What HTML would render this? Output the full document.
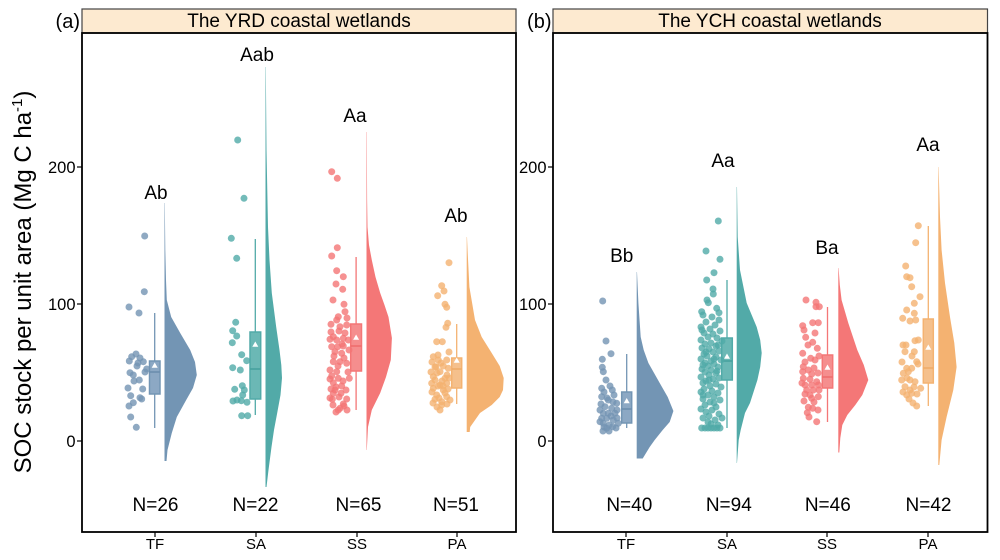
<!DOCTYPE html>
<html><head><meta charset="utf-8"><style>
html,body{margin:0;padding:0;background:#fff;}
svg{display:block;font-family:"Liberation Sans",Arial,sans-serif;}
</style></head><body>
<svg width="1000" height="560" viewBox="0 0 1000 560" xmlns="http://www.w3.org/2000/svg">
<rect width="1000" height="560" fill="#fff"/>

<!-- Y axis title -->
<text transform="translate(31,282) rotate(-90)" font-size="24" text-anchor="middle" fill="#000">SOC stock per unit area (Mg C ha<tspan font-size="15" dy="-9">-1</tspan><tspan dy="9">)</tspan></text>

<!-- ================= PANEL A ================= -->
<rect x="82" y="9" width="434" height="24" fill="#FDEAD0" stroke="#444" stroke-width="1.2"/>
<text x="299" y="27" font-size="19" text-anchor="middle">The YRD coastal wetlands</text>
<text x="80" y="28" font-size="20" text-anchor="end">(a)</text>

<!-- y ticks A -->
<g stroke="#000" stroke-width="1.2">
<line x1="77" y1="441" x2="82" y2="441"/><line x1="77" y1="304" x2="82" y2="304"/><line x1="77" y1="167" x2="82" y2="167"/>
<line x1="155" y1="532" x2="155" y2="537"/><line x1="256" y1="532" x2="256" y2="537"/><line x1="357" y1="532" x2="357" y2="537"/><line x1="457" y1="532" x2="457" y2="537"/>
</g>
<g font-size="16.5" text-anchor="end" fill="#000">
<text x="75.5" y="447">0</text><text x="75.5" y="310">100</text><text x="75.5" y="173">200</text>
</g>
<g font-size="15" text-anchor="middle">
<text x="155" y="549">TF</text><text x="256" y="549">SA</text><text x="357" y="549">SS</text><text x="457" y="549">PA</text>
</g>

<!-- TF a -->
<g>
<polygon fill="#7395B4" points="164.5,203 164.8,203 165.3,250 166,280 166.8,300 171.2,317 180.2,333 190.2,350 195,362 196.8,375 193,388 186.2,400 176.8,417 171.8,433 167.5,450 166.5,461 164.5,461"/>
<line x1="154.7" y1="313" x2="154.7" y2="428" stroke="#7395B4" stroke-width="1.3"/>
<rect x="149.5" y="361" width="10.5" height="33" fill="#8CA8C4" stroke="#7395B4" stroke-width="1.5"/>
<line x1="149.5" y1="372" x2="160" y2="372" stroke="#6A8CAD" stroke-width="1.5"/>
<polygon points="154.7,362.5 151.7,367.8 157.7,367.8" fill="#fff"/>
<g fill="#7393B3" fill-opacity="0.8">
<circle cx="144.7" cy="236" r="3.5"/><circle cx="144.3" cy="291.7" r="3.5"/><circle cx="129" cy="307" r="3.5"/><circle cx="139" cy="313" r="3.5"/>
<circle cx="136" cy="354" r="3.5"/><circle cx="131.7" cy="356.7" r="3.5"/><circle cx="129.3" cy="361" r="3.5"/><circle cx="138" cy="363" r="3.5"/>
<circle cx="143.3" cy="361.7" r="3.5"/><circle cx="146.7" cy="369" r="3.5"/><circle cx="130" cy="372.7" r="3.5"/><circle cx="133.3" cy="375" r="3.5"/>
<circle cx="139.3" cy="380" r="3.5"/><circle cx="142.7" cy="389" r="3.5"/><circle cx="130.7" cy="395.7" r="3.5"/><circle cx="140" cy="397.7" r="3.5"/>
<circle cx="141.7" cy="399" r="3.5"/><circle cx="133.3" cy="402.7" r="3.5"/><circle cx="129" cy="406" r="3.5"/><circle cx="130.7" cy="417" r="3.5"/>
<circle cx="136.3" cy="427.3" r="3.5"/><circle cx="137" cy="366" r="3.5"/><circle cx="134" cy="381" r="3.5"/><circle cx="145" cy="372" r="3.5"/>
<circle cx="128" cy="388" r="3.5"/><circle cx="140" cy="358" r="3.5"/>
</g>
</g>

<!-- SA a -->
<g>
<polygon fill="#52AAA8" points="265.5,67 265.8,67 266.5,150 268,227 269.5,260 271.8,293 276.2,327 279.5,350 281.3,365 282,378 280.5,395 277.2,413 274,430 271.5,447 268.5,470 266.5,487 265.5,487"/>
<line x1="255.3" y1="239" x2="255.3" y2="415" stroke="#52AAA8" stroke-width="1.3"/>
<rect x="250" y="332" width="10.7" height="67" fill="#6BB8B5" stroke="#52AAA8" stroke-width="1.5"/>
<line x1="250" y1="369" x2="260.7" y2="369" stroke="#45A09D" stroke-width="1.5"/>
<polygon points="255.3,341.5 252.3,346.8 258.3,346.8" fill="#fff"/>
<g fill="#50AAA7" fill-opacity="0.8">
<circle cx="237.7" cy="140" r="3.5"/><circle cx="244" cy="198.3" r="3.5"/><circle cx="231.3" cy="238.3" r="3.5"/><circle cx="236.7" cy="258.3" r="3.5"/>
<circle cx="235.7" cy="322.3" r="3.5"/><circle cx="232.7" cy="330.7" r="3.5"/><circle cx="236.7" cy="336" r="3.5"/><circle cx="232.3" cy="342.7" r="3.5"/>
<circle cx="241.7" cy="354.7" r="3.5"/><circle cx="246.7" cy="360.7" r="3.5"/><circle cx="232.7" cy="367.7" r="3.5"/><circle cx="240.3" cy="370" r="3.5"/>
<circle cx="242.3" cy="385.7" r="3.5"/><circle cx="234.7" cy="389.3" r="3.5"/><circle cx="244.3" cy="390" r="3.5"/><circle cx="242.7" cy="395" r="3.5"/>
<circle cx="233" cy="401" r="3.5"/><circle cx="237" cy="400" r="3.5"/><circle cx="241.3" cy="400.7" r="3.5"/><circle cx="247" cy="402.3" r="3.5"/>
<circle cx="241.7" cy="415.7" r="3.5"/><circle cx="247.7" cy="415.7" r="3.5"/>
</g>
</g>

<!-- SS a -->
<g>
<polygon fill="#F47777" points="366.5,132 366.8,132 367.1,200 367.5,227 369,245 371.8,260 375.5,277 380.2,293 384.5,305 388.5,317 391.9,338 390.8,360 386,377 380.2,393 371.8,410 368,427 366.8,450 366.5,450"/>
<line x1="356.1" y1="257" x2="356.1" y2="410" stroke="#F47777" stroke-width="1.3"/>
<rect x="350.7" y="324" width="10.8" height="47" fill="#F58E8E" stroke="#F47777" stroke-width="1.5"/>
<line x1="350.7" y1="346" x2="361.5" y2="346" stroke="#EE6B6B" stroke-width="1.5"/>
<polygon points="356.1,334.5 353.1,339.8 359.1,339.8" fill="#fff"/>
<g fill="#F47575" fill-opacity="0.8">
<circle cx="331.7" cy="171.7" r="3.5"/><circle cx="337.3" cy="178.3" r="3.5"/><circle cx="337.3" cy="247.7" r="3.5"/><circle cx="331.7" cy="256" r="3.5"/>
<circle cx="336.7" cy="270.7" r="3.5"/><circle cx="343.3" cy="276.7" r="3.5"/><circle cx="336" cy="284" r="3.5"/><circle cx="342.7" cy="289.3" r="3.5"/>
<circle cx="344" cy="304.3" r="3.5"/><circle cx="345" cy="311.7" r="3.5"/><circle cx="338.3" cy="316.7" r="3.5"/><circle cx="331" cy="324.3" r="3.5"/>
<circle cx="336.7" cy="320" r="3.5"/><circle cx="346.7" cy="325" r="3.5"/><circle cx="340" cy="326.7" r="3.5"/><circle cx="333.3" cy="336.7" r="3.5"/>
<circle cx="330" cy="339.3" r="3.5"/><circle cx="336.7" cy="340" r="3.5"/><circle cx="343.3" cy="338.3" r="3.5"/><circle cx="331.7" cy="346.7" r="3.5"/>
<circle cx="337.7" cy="346.7" r="3.5"/><circle cx="343.3" cy="346" r="3.5"/><circle cx="348.3" cy="340" r="3.5"/><circle cx="335" cy="351.7" r="3.5"/>
<circle cx="341.7" cy="353.3" r="3.5"/><circle cx="333.3" cy="361.7" r="3.5"/><circle cx="340" cy="361.7" r="3.5"/><circle cx="346.7" cy="363.3" r="3.5"/>
<circle cx="330" cy="370" r="3.5"/><circle cx="336.7" cy="371.7" r="3.5"/><circle cx="331.7" cy="376" r="3.5"/><circle cx="338.3" cy="378.3" r="3.5"/>
<circle cx="349.3" cy="378.3" r="3.5"/><circle cx="333.3" cy="382.7" r="3.5"/><circle cx="341.7" cy="386" r="3.5"/><circle cx="335" cy="390" r="3.5"/>
<circle cx="333.3" cy="393.3" r="3.5"/><circle cx="341" cy="393.3" r="3.5"/><circle cx="332.3" cy="399.3" r="3.5"/><circle cx="346.7" cy="399" r="3.5"/>
<circle cx="343.3" cy="404" r="3.5"/><circle cx="340" cy="408.3" r="3.5"/><circle cx="338.3" cy="410" r="3.5"/>
<circle cx="333" cy="300" r="3.5"/><circle cx="347" cy="318" r="3.5"/><circle cx="339" cy="331" r="3.5"/><circle cx="345" cy="333" r="3.5"/>
<circle cx="331" cy="332" r="3.5"/><circle cx="349" cy="350" r="3.5"/><circle cx="334" cy="356" r="3.5"/><circle cx="344" cy="358" r="3.5"/>
<circle cx="338" cy="366" r="3.5"/><circle cx="348" cy="372" r="3.5"/><circle cx="330" cy="379" r="3.5"/><circle cx="343" cy="381" r="3.5"/>
<circle cx="336" cy="387" r="3.5"/><circle cx="346" cy="390" r="3.5"/><circle cx="331" cy="389" r="3.5"/><circle cx="339" cy="397" r="3.5"/>
<circle cx="336" cy="412" r="3.5"/><circle cx="344" cy="406" r="3.5"/><circle cx="330" cy="398" r="3.5"/><circle cx="333" cy="405" r="3.5"/>
<circle cx="347" cy="410" r="3.5"/><circle cx="342" cy="344" r="3.5"/>
</g>
</g>

<!-- PA a -->
<g>
<polygon fill="#F4B271" points="466.7,237 467,237 467.7,253 469.4,287 475,320 481.7,337 491.7,353 499.7,366 503.7,378 503,390 499.7,397 491.7,405 480,413 470.2,427 469.7,432 466.7,432"/>
<line x1="456.7" y1="324" x2="456.7" y2="404" stroke="#F4B271" stroke-width="1.3"/>
<rect x="451.7" y="358" width="10" height="30" fill="#F5C08C" stroke="#F4B271" stroke-width="1.5"/>
<line x1="451.7" y1="369" x2="461.7" y2="369" stroke="#EFAA66" stroke-width="1.5"/>
<polygon points="456.7,357.5 453.7,362.8 459.7,362.8" fill="#fff"/>
<g fill="#F4B170" fill-opacity="0.8">
<circle cx="449" cy="262.7" r="3.5"/><circle cx="441.7" cy="285.7" r="3.5"/><circle cx="444" cy="291" r="3.5"/><circle cx="437.7" cy="295.7" r="3.5"/>
<circle cx="445" cy="304.3" r="3.5"/><circle cx="446.7" cy="307.3" r="3.5"/><circle cx="447.7" cy="323.3" r="3.5"/><circle cx="446" cy="327.3" r="3.5"/>
<circle cx="436.7" cy="341.7" r="3.5"/><circle cx="442.3" cy="341.7" r="3.5"/><circle cx="433.3" cy="356.7" r="3.5"/><circle cx="438.3" cy="360" r="3.5"/>
<circle cx="446.7" cy="360" r="3.5"/><circle cx="436" cy="366.7" r="3.5"/><circle cx="443.3" cy="366" r="3.5"/><circle cx="448.3" cy="368.3" r="3.5"/>
<circle cx="440" cy="371.7" r="3.5"/><circle cx="433.3" cy="376.7" r="3.5"/><circle cx="445" cy="378.3" r="3.5"/><circle cx="435" cy="380" r="3.5"/>
<circle cx="431.7" cy="383.3" r="3.5"/><circle cx="440" cy="385" r="3.5"/><circle cx="446.7" cy="383.3" r="3.5"/><circle cx="433.3" cy="388.3" r="3.5"/>
<circle cx="443.3" cy="390" r="3.5"/><circle cx="436.7" cy="395" r="3.5"/><circle cx="446.7" cy="396.7" r="3.5"/><circle cx="435" cy="399.3" r="3.5"/>
<circle cx="441.7" cy="401.7" r="3.5"/><circle cx="450" cy="400" r="3.5"/><circle cx="441.7" cy="405" r="3.5"/>
<circle cx="438" cy="355" r="3.5"/><circle cx="449" cy="352" r="3.5"/><circle cx="432" cy="362" r="3.5"/><circle cx="441" cy="363" r="3.5"/>
<circle cx="447" cy="375" r="3.5"/><circle cx="437" cy="373" r="3.5"/><circle cx="431" cy="372" r="3.5"/><circle cx="442" cy="381" r="3.5"/>
<circle cx="438" cy="386" r="3.5"/><circle cx="448" cy="389" r="3.5"/><circle cx="432" cy="392" r="3.5"/><circle cx="445" cy="393" r="3.5"/>
<circle cx="439" cy="398" r="3.5"/><circle cx="433" cy="403" r="3.5"/><circle cx="447" cy="404" r="3.5"/><circle cx="437" cy="407" r="3.5"/>
<circle cx="443" cy="386" r="3.5"/><circle cx="435" cy="367" r="3.5"/><circle cx="449" cy="378" r="3.5"/><circle cx="440" cy="410" r="3.5"/>
</g>
</g>

<g font-size="19" text-anchor="middle" fill="#000">
<text x="156" y="199">Ab</text><text x="257" y="61">Aab</text><text x="355" y="122">Aa</text><text x="456" y="222">Ab</text>
<text x="155.5" y="511">N=26</text><text x="255.5" y="511">N=22</text><text x="358.5" y="511">N=65</text><text x="456" y="511">N=51</text>
</g>
<rect x="82" y="33" width="434" height="499" fill="none" stroke="#000" stroke-width="1.8"/>

<!-- ================= PANEL B ================= -->
<rect x="553" y="9" width="434.5" height="24" fill="#FDEAD0" stroke="#444" stroke-width="1.2"/>
<text x="770" y="27" font-size="19" text-anchor="middle">The YCH coastal wetlands</text>
<text x="551.5" y="28" font-size="20" text-anchor="end">(b)</text>

<g stroke="#000" stroke-width="1.2">
<line x1="548" y1="441" x2="553" y2="441"/><line x1="548" y1="304" x2="553" y2="304"/><line x1="548" y1="167" x2="553" y2="167"/>
<line x1="626" y1="532" x2="626" y2="537"/><line x1="727" y1="532" x2="727" y2="537"/><line x1="827" y1="532" x2="827" y2="537"/><line x1="928" y1="532" x2="928" y2="537"/>
</g>
<g font-size="16.5" text-anchor="end" fill="#000">
<text x="546.5" y="447">0</text><text x="546.5" y="310">100</text><text x="546.5" y="173">200</text>
</g>
<g font-size="15" text-anchor="middle">
<text x="626" y="549">TF</text><text x="727" y="549">SA</text><text x="827" y="549">SS</text><text x="928" y="549">PA</text>
</g>

<!-- TF b -->
<g>
<polygon fill="#7395B4" points="636.7,272 637,272 638.4,303 640.7,337 643.7,350 648.4,363 659.7,383 667.7,397 673.4,411 669.7,422 662.7,430 654.7,440 649.7,447 642.7,458.5 636.7,458.5"/>
<line x1="626.7" y1="354" x2="626.7" y2="428" stroke="#7395B4" stroke-width="1.3"/>
<rect x="621.7" y="392" width="10" height="31" fill="#8CA8C4" stroke="#7395B4" stroke-width="1.5"/>
<line x1="621.7" y1="409" x2="631.7" y2="409" stroke="#6A8CAD" stroke-width="1.5"/>
<polygon points="626.7,398 623.7,403.3 629.7,403.3" fill="#fff"/>
<g fill="#7393B3" fill-opacity="0.8">
<circle cx="602.7" cy="301" r="3.5"/><circle cx="606" cy="341" r="3.5"/><circle cx="611" cy="353.7" r="3.5"/><circle cx="602.3" cy="359.3" r="3.5"/>
<circle cx="602.3" cy="367.3" r="3.5"/><circle cx="603.3" cy="371.7" r="3.5"/><circle cx="610" cy="386" r="3.5"/><circle cx="601.7" cy="388.3" r="3.5"/>
<circle cx="612.3" cy="390" r="3.5"/><circle cx="608.3" cy="400" r="3.5"/><circle cx="601.7" cy="396.7" r="3.5"/><circle cx="616.7" cy="403.3" r="3.5"/>
<circle cx="605" cy="406.7" r="3.5"/><circle cx="611.7" cy="408.3" r="3.5"/><circle cx="603.3" cy="413.3" r="3.5"/><circle cx="608.3" cy="413.3" r="3.5"/>
<circle cx="615" cy="413.3" r="3.5"/><circle cx="601.7" cy="418.3" r="3.5"/><circle cx="606.7" cy="418.3" r="3.5"/><circle cx="613.3" cy="420" r="3.5"/>
<circle cx="618.3" cy="423.3" r="3.5"/><circle cx="603.3" cy="423.3" r="3.5"/><circle cx="609.3" cy="425" r="3.5"/><circle cx="600" cy="421.7" r="3.5"/>
<circle cx="606.7" cy="428.3" r="3.5"/><circle cx="612.7" cy="426.7" r="3.5"/>
<circle cx="604" cy="392" r="3.5"/><circle cx="614" cy="395" r="3.5"/><circle cx="607" cy="398" r="3.5"/><circle cx="617" cy="410" r="3.5"/>
<circle cx="600" cy="410" r="3.5"/><circle cx="611" cy="416" r="3.5"/><circle cx="604" cy="427" r="3.5"/><circle cx="616" cy="428" r="3.5"/>
<circle cx="609" cy="431" r="3.5"/><circle cx="601" cy="404" r="3.5"/><circle cx="613" cy="402" r="3.5"/><circle cx="606" cy="380" r="3.5"/>
<circle cx="617" cy="418" r="3.5"/><circle cx="603" cy="431" r="3.5"/>
</g>
</g>

<!-- SA b -->
<g>
<polygon fill="#52AAA8" points="736.7,187 737,187 737.7,237 740,270 746.7,303 756.7,327 760.2,340 761.7,353 760.2,367 757.4,380 750,403 745,413 740.7,430 738.7,440 737,463 736.7,463"/>
<line x1="727" y1="280" x2="727" y2="428" stroke="#52AAA8" stroke-width="1.3"/>
<rect x="721.7" y="338" width="10.6" height="42" fill="#6BB8B5" stroke="#52AAA8" stroke-width="1.5"/>
<line x1="721.7" y1="361" x2="732.3" y2="361" stroke="#45A09D" stroke-width="1.5"/>
<polygon points="727,353.5 724,358.8 730,358.8" fill="#fff"/>
<g fill="#50AAA7" fill-opacity="0.8">
<circle cx="718.3" cy="221" r="3.5"/><circle cx="706" cy="251" r="3.5"/><circle cx="720" cy="259.3" r="3.5"/><circle cx="714" cy="272.7" r="3.5"/>
<circle cx="706.7" cy="280" r="3.5"/><circle cx="713.3" cy="294" r="3.5"/><circle cx="708.3" cy="302.7" r="3.5"/><circle cx="701.7" cy="311.7" r="3.5"/>
<circle cx="716.7" cy="308.3" r="3.5"/><circle cx="719" cy="312.7" r="3.5"/>
<circle cx="701.7" cy="428" r="3.5"/><circle cx="705" cy="428" r="3.5"/><circle cx="708" cy="428" r="3.5"/><circle cx="711" cy="428" r="3.5"/>
<circle cx="714" cy="428" r="3.5"/><circle cx="717" cy="428" r="3.5"/><circle cx="720" cy="428" r="3.5"/>
<circle cx="703" cy="315" r="3.5"/><circle cx="712" cy="317" r="3.5"/><circle cx="719" cy="320" r="3.5"/><circle cx="706" cy="322" r="3.5"/>
<circle cx="715" cy="325" r="3.5"/><circle cx="701" cy="327" r="3.5"/><circle cx="710" cy="329" r="3.5"/><circle cx="720" cy="331" r="3.5"/>
<circle cx="704" cy="333" r="3.5"/><circle cx="713" cy="334" r="3.5"/><circle cx="708" cy="337" r="3.5"/><circle cx="717" cy="338" r="3.5"/>
<circle cx="701" cy="340" r="3.5"/><circle cx="722" cy="341" r="3.5"/><circle cx="711" cy="343" r="3.5"/><circle cx="705" cy="344" r="3.5"/>
<circle cx="716" cy="346" r="3.5"/><circle cx="702" cy="348" r="3.5"/><circle cx="709" cy="349" r="3.5"/><circle cx="719" cy="351" r="3.5"/>
<circle cx="713" cy="352" r="3.5"/><circle cx="704" cy="354" r="3.5"/><circle cx="707" cy="356" r="3.5"/><circle cx="716" cy="357" r="3.5"/>
<circle cx="701" cy="359" r="3.5"/><circle cx="721" cy="360" r="3.5"/><circle cx="711" cy="361" r="3.5"/><circle cx="705" cy="363" r="3.5"/>
<circle cx="714" cy="364" r="3.5"/><circle cx="708" cy="366" r="3.5"/><circle cx="718" cy="367" r="3.5"/><circle cx="702" cy="369" r="3.5"/>
<circle cx="711" cy="370" r="3.5"/><circle cx="705" cy="372" r="3.5"/><circle cx="716" cy="373" r="3.5"/><circle cx="709" cy="375" r="3.5"/>
<circle cx="701" cy="377" r="3.5"/><circle cx="719" cy="378" r="3.5"/><circle cx="713" cy="379" r="3.5"/><circle cx="706" cy="381" r="3.5"/>
<circle cx="703" cy="383" r="3.5"/><circle cx="716" cy="384" r="3.5"/><circle cx="710" cy="386" r="3.5"/><circle cx="721" cy="387" r="3.5"/>
<circle cx="704" cy="389" r="3.5"/><circle cx="712" cy="391" r="3.5"/><circle cx="701" cy="392" r="3.5"/><circle cx="718" cy="393" r="3.5"/>
<circle cx="708" cy="395" r="3.5"/><circle cx="714" cy="397" r="3.5"/><circle cx="703" cy="399" r="3.5"/><circle cx="720" cy="400" r="3.5"/>
<circle cx="710" cy="402" r="3.5"/><circle cx="705" cy="405" r="3.5"/><circle cx="716" cy="407" r="3.5"/><circle cx="701" cy="409" r="3.5"/>
<circle cx="712" cy="410" r="3.5"/><circle cx="706" cy="412" r="3.5"/><circle cx="719" cy="414" r="3.5"/><circle cx="709" cy="416" r="3.5"/>
<circle cx="703" cy="418" r="3.5"/><circle cx="715" cy="420" r="3.5"/><circle cx="722" cy="418" r="3.5"/>
<circle cx="707" cy="300" r="3.5"/><circle cx="713" cy="289" r="3.5"/><circle cx="702" cy="330" r="3.5"/><circle cx="718" cy="345" r="3.5"/>
<circle cx="706" cy="352" r="3.5"/><circle cx="714" cy="359" r="3.5"/><circle cx="703" cy="365" r="3.5"/><circle cx="717" cy="371" r="3.5"/>
<circle cx="709" cy="380" r="3.5"/><circle cx="703" cy="395" r="3.5"/><circle cx="714" cy="403" r="3.5"/><circle cx="708" cy="422" r="3.5"/>
<circle cx="718" cy="425" r="3.5"/><circle cx="711" cy="424" r="3.5"/>
</g>
</g>

<!-- SS b -->
<g>
<polygon fill="#F47777" points="838.3,268 838.6,268 839.8,285 841.6,300 848.3,323 857.3,350 863.8,365 868.3,380 862.3,395 855.3,405 847.3,415 842.3,425 840.3,438 839.3,452.5 838.3,452.5"/>
<line x1="827.5" y1="307" x2="827.5" y2="422" stroke="#F47777" stroke-width="1.3"/>
<rect x="822.3" y="355" width="10.4" height="33" fill="#F58E8E" stroke="#F47777" stroke-width="1.5"/>
<line x1="822.3" y1="377" x2="832.7" y2="377" stroke="#EE6B6B" stroke-width="1.5"/>
<polygon points="827.5,364.5 824.5,369.8 830.5,369.8" fill="#fff"/>
<g fill="#F47575" fill-opacity="0.8">
<circle cx="806" cy="300" r="3.5"/><circle cx="816" cy="302.3" r="3.5"/><circle cx="819.3" cy="306.7" r="3.5"/><circle cx="816" cy="306.7" r="3.5"/>
<circle cx="802.7" cy="325.7" r="3.5"/><circle cx="812.7" cy="322.7" r="3.5"/><circle cx="818.3" cy="322.7" r="3.5"/><circle cx="805.7" cy="337.3" r="3.5"/>
<circle cx="812.7" cy="342.3" r="3.5"/><circle cx="817.3" cy="348.3" r="3.5"/><circle cx="802.7" cy="353.3" r="3.5"/><circle cx="810.7" cy="358.3" r="3.5"/>
<circle cx="815" cy="360" r="3.5"/><circle cx="803.3" cy="366.7" r="3.5"/><circle cx="802.7" cy="371.7" r="3.5"/><circle cx="808.3" cy="370" r="3.5"/>
<circle cx="811.7" cy="374" r="3.5"/><circle cx="803.3" cy="378.3" r="3.5"/><circle cx="810" cy="379.3" r="3.5"/><circle cx="816.7" cy="381.7" r="3.5"/>
<circle cx="805" cy="385" r="3.5"/><circle cx="811.7" cy="385" r="3.5"/><circle cx="818.3" cy="385" r="3.5"/><circle cx="806.7" cy="390" r="3.5"/>
<circle cx="813.3" cy="390" r="3.5"/><circle cx="805" cy="394" r="3.5"/><circle cx="818.3" cy="396.7" r="3.5"/><circle cx="811.7" cy="398.3" r="3.5"/>
<circle cx="808.3" cy="407.3" r="3.5"/><circle cx="812.7" cy="408.3" r="3.5"/><circle cx="807.3" cy="412.7" r="3.5"/><circle cx="816.7" cy="421.7" r="3.5"/>
<circle cx="804" cy="330" r="3.5"/><circle cx="815" cy="333" r="3.5"/><circle cx="808" cy="345" r="3.5"/><circle cx="819" cy="356" r="3.5"/>
<circle cx="805" cy="362" r="3.5"/><circle cx="814" cy="368" r="3.5"/><circle cx="818" cy="373" r="3.5"/><circle cx="802" cy="383" r="3.5"/>
<circle cx="810" cy="395" r="3.5"/><circle cx="819" cy="390" r="3.5"/><circle cx="804" cy="401" r="3.5"/><circle cx="814" cy="402" r="3.5"/>
<circle cx="809" cy="417" r="3.5"/><circle cx="818" cy="410" r="3.5"/>
</g>
</g>

<!-- PA b -->
<g>
<polygon fill="#F4B271" points="938.3,167 938.6,167 940,217 941.6,250 945,283 950,317 954.3,343 956.6,367 953.3,390 946.6,417 941.6,440 939.3,465 938.3,465"/>
<line x1="928.3" y1="226" x2="928.3" y2="406" stroke="#F4B271" stroke-width="1.3"/>
<rect x="923.3" y="319" width="10" height="64" fill="#F5C08C" stroke="#F4B271" stroke-width="1.5"/>
<line x1="923.3" y1="368" x2="933.3" y2="368" stroke="#EFAA66" stroke-width="1.5"/>
<polygon points="928.3,344.5 925.3,349.8 931.3,349.8" fill="#fff"/>
<g fill="#F4B170" fill-opacity="0.8">
<circle cx="918.3" cy="225.7" r="3.5"/><circle cx="915.7" cy="242.7" r="3.5"/><circle cx="905.7" cy="266" r="3.5"/><circle cx="906.7" cy="276.7" r="3.5"/>
<circle cx="910" cy="277.7" r="3.5"/><circle cx="911.7" cy="286.7" r="3.5"/><circle cx="920" cy="296.7" r="3.5"/><circle cx="914.3" cy="303.3" r="3.5"/>
<circle cx="906.7" cy="310" r="3.5"/><circle cx="914.3" cy="313.3" r="3.5"/><circle cx="902.7" cy="318.3" r="3.5"/><circle cx="910" cy="321" r="3.5"/>
<circle cx="915.7" cy="320" r="3.5"/><circle cx="915" cy="340.7" r="3.5"/><circle cx="918.3" cy="340" r="3.5"/><circle cx="905" cy="351.7" r="3.5"/>
<circle cx="914.3" cy="351.7" r="3.5"/><circle cx="916.7" cy="361.7" r="3.5"/><circle cx="906.7" cy="368.3" r="3.5"/><circle cx="911.7" cy="368.3" r="3.5"/>
<circle cx="903.3" cy="373.3" r="3.5"/><circle cx="908.3" cy="371.7" r="3.5"/><circle cx="901.7" cy="380" r="3.5"/><circle cx="910" cy="380" r="3.5"/>
<circle cx="915" cy="381.7" r="3.5"/><circle cx="905" cy="386.7" r="3.5"/><circle cx="910" cy="390" r="3.5"/><circle cx="920.7" cy="388.3" r="3.5"/>
<circle cx="906.7" cy="395" r="3.5"/><circle cx="911.7" cy="393.3" r="3.5"/><circle cx="916.7" cy="406" r="3.5"/>
<circle cx="903" cy="345" r="3.5"/><circle cx="912" cy="356" r="3.5"/><circle cx="918" cy="364" r="3.5"/><circle cx="902" cy="362" r="3.5"/>
<circle cx="907" cy="378" r="3.5"/><circle cx="914" cy="387" r="3.5"/><circle cx="903" cy="392" r="3.5"/><circle cx="917" cy="394" r="3.5"/>
<circle cx="909" cy="399" r="3.5"/><circle cx="913" cy="403" r="3.5"/><circle cx="906" cy="345" r="3.5"/>
</g>
</g>

<g font-size="19" text-anchor="middle" fill="#000">
<text x="621.7" y="262">Bb</text><text x="723" y="167">Aa</text><text x="827" y="254">Ba</text><text x="928" y="151">Aa</text>
<text x="629.3" y="511">N=40</text><text x="728.8" y="511">N=94</text><text x="827.8" y="511">N=46</text><text x="928.5" y="511">N=42</text>
</g>
<rect x="553" y="33" width="434.5" height="499" fill="none" stroke="#000" stroke-width="1.8"/>
</svg>
</body></html>
